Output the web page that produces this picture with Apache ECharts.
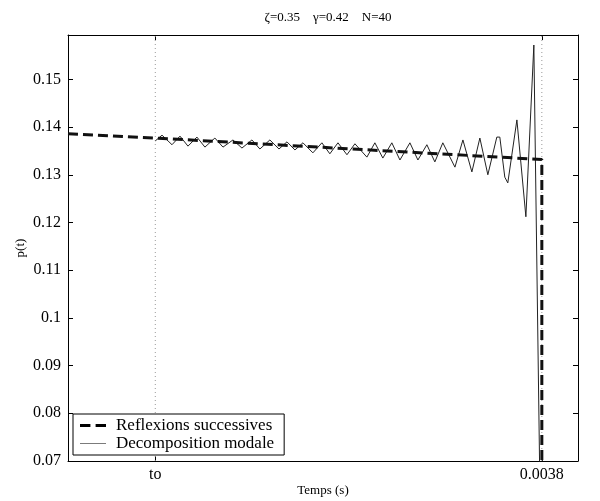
<!DOCTYPE html>
<html>
<head>
<meta charset="utf-8">
<script src="https://cdn.jsdelivr.net/npm/echarts@6/dist/echarts.min.js"></script>
<style>
  html, body { margin: 0; padding: 0; background: #fff; }
  #chart { width: 600px; height: 501px; }
</style>
</head>
<body>
<div id="chart"></div>
<script>
// Time marks on the x axis (s) and their labels
const timeTicks = [0.0007, 0.0038];
const timeTickLabels = ['to', '0.0038'];

// Successive reflections solution: [time (s), p(t)]
const reflexionsT = [0, 0.0007, 0.0038, 0.0038];
const reflexionsP = [0.1386, 0.1377, 0.1332, 0.05];

// Modal decomposition solution: [time (s), p(t)]
const modaleT = [
  0.0007, 0.000754, 0.000834, 0.000898, 0.000962, 0.001034, 0.001098, 0.001178,
  0.001243, 0.001323, 0.001395, 0.001475, 0.001539, 0.001619, 0.001692, 0.001756,
  0.001820, 0.001884, 0.001964, 0.002036, 0.002100, 0.002165, 0.002237, 0.002301,
  0.002397, 0.002461, 0.002525, 0.002597, 0.002662, 0.002742, 0.002806, 0.002878,
  0.002942, 0.003006, 0.003103, 0.003167, 0.003239, 0.003303, 0.003367, 0.003439,
  0.003463, 0.003503, 0.003527, 0.003600, 0.003672, 0.003736, 0.003792
];
const modaleP = [
  0.1371, 0.1383, 0.1363, 0.1381, 0.1360, 0.1379, 0.1358, 0.1377,
  0.1358, 0.1373, 0.1356, 0.1373, 0.1354, 0.1373, 0.1354, 0.1369,
  0.1352, 0.1367, 0.1346, 0.1367, 0.1344, 0.1367, 0.1342, 0.1365,
  0.1337, 0.1367, 0.1335, 0.1367, 0.1331, 0.1367, 0.1331, 0.1363,
  0.1327, 0.1367, 0.1316, 0.1373, 0.1306, 0.1377, 0.1300, 0.1379,
  0.1379, 0.1295, 0.1283, 0.1415, 0.1212, 0.1572, 0.05
];

const yMin = 0.07, yMax = 0.1593, yStep = 0.01;
const xMin = 0, xMax = 0.00409;

const serif = 'Liberation Serif, Times New Roman, serif';
const zip = (a, b) => a.map((v, i) => [v, b[i]]);

const chart = echarts.init(document.getElementById('chart'), null, { renderer: 'canvas' });

const tickFmt = v => {
  const i = timeTicks.findIndex(t => Math.abs(t - v) < 1e-9);
  return i >= 0 ? timeTickLabels[i] : '';
};

// dotted vertical guides at each labelled time
const guideSeries = timeTicks.map(t => ({
  name: 'guide',
  type: 'line',
  data: [[t, yMin], [t, yMax]],
  showSymbol: false, symbol: 'none',
  silent: true,
  z: 1,
  lineStyle: { color: '#999', width: 1, type: [1, 3] }
}));

chart.setOption({
  animation: false,
  backgroundColor: '#fff',
  title: {
    text: 'ζ=0.35    γ=0.42    N=40',
    left: 323, top: 6,
    textAlign: 'center',
    textStyle: { fontFamily: serif, fontSize: 13, fontWeight: 'normal', color: '#000' }
  },
  grid: { left: 68, right: 22, top: 35, bottom: 40, outerBoundsMode: 'none', containLabel: false },
  legend: {
    left: 73, top: 414,
    orient: 'vertical',
    backgroundColor: '#fff',
    borderColor: '#000', borderWidth: 1, borderRadius: 0,
    padding: [3, 10, 3, 7],
    itemGap: 1,
    itemWidth: 26, itemHeight: 14,
    textStyle: { fontFamily: serif, fontSize: 17, color: '#000', padding: [0, 0, 0, 5] },
    data: [
      { name: 'Reflexions successives', icon: 'path://M0,0 L4,0 L4,1.2 L0,1.2 Z M6,0 L10,0 L10,1.2 L6,1.2 Z', itemStyle: { color: '#000' } },
      { name: 'Decomposition modale', icon: 'path://M0,0 L10,0 L10,0.3 L0,0.3 Z', itemStyle: { color: '#555' } }
    ]
  },
  xAxis: [{
    type: 'value', min: xMin, max: xMax,
    name: 'Temps (s)', nameLocation: 'middle', nameGap: 23, nameMoveOverlap: false,
    nameTextStyle: { fontFamily: serif, fontSize: 13, color: '#000' },
    axisLine: { show: true, lineStyle: { color: '#000', width: 1 } },
    axisTick: { show: true, inside: true, length: 5, customValues: timeTicks, lineStyle: { color: '#000' } },
    axisLabel: { show: true, customValues: timeTicks, formatter: tickFmt, margin: 6,
      fontFamily: serif, fontSize: 16, color: '#000' },
    splitLine: { show: false }
  }, {
    type: 'value', position: 'top', min: xMin, max: xMax,
    axisLine: { show: true, onZero: false, lineStyle: { color: '#000', width: 1 } },
    axisTick: { show: true, inside: true, length: 5, customValues: timeTicks, lineStyle: { color: '#000' } },
    axisLabel: { show: false },
    splitLine: { show: false }
  }],
  yAxis: [{
    type: 'value', min: yMin, max: yMax, interval: yStep,
    name: 'p(t)', nameLocation: 'middle', nameGap: 41, nameRotate: 90, nameMoveOverlap: false,
    nameTextStyle: { fontFamily: serif, fontSize: 13, color: '#000' },
    axisLine: { show: true, lineStyle: { color: '#000', width: 1 } },
    axisTick: { show: true, inside: true, length: 5, lineStyle: { color: '#000' } },
    axisLabel: { formatter: v => String(+v.toFixed(2)), margin: 7, showMaxLabel: false,
      fontFamily: serif, fontSize: 16, color: '#000' },
    splitLine: { show: false }
  }, {
    type: 'value', position: 'right', min: yMin, max: yMax, interval: yStep,
    axisLine: { show: true, onZero: false, lineStyle: { color: '#000', width: 1 } },
    axisTick: { show: true, inside: true, length: 5, lineStyle: { color: '#000' } },
    axisLabel: { show: false },
    splitLine: { show: false }
  }],
  series: guideSeries.concat([{
    name: 'Decomposition modale',
    type: 'line',
    data: zip(modaleT, modaleP),
    showSymbol: false, symbol: 'none',
    clip: true,
    z: 3,
    lineStyle: { color: '#222', width: 1 }
  }, {
    name: 'Reflexions successives',
    type: 'line',
    data: zip(reflexionsT, reflexionsP),
    showSymbol: false, symbol: 'none',
    clip: true,
    z: 4,
    lineStyle: { color: '#111', width: 3, type: [10, 5] }
  }])
});
</script>
</body>
</html>
